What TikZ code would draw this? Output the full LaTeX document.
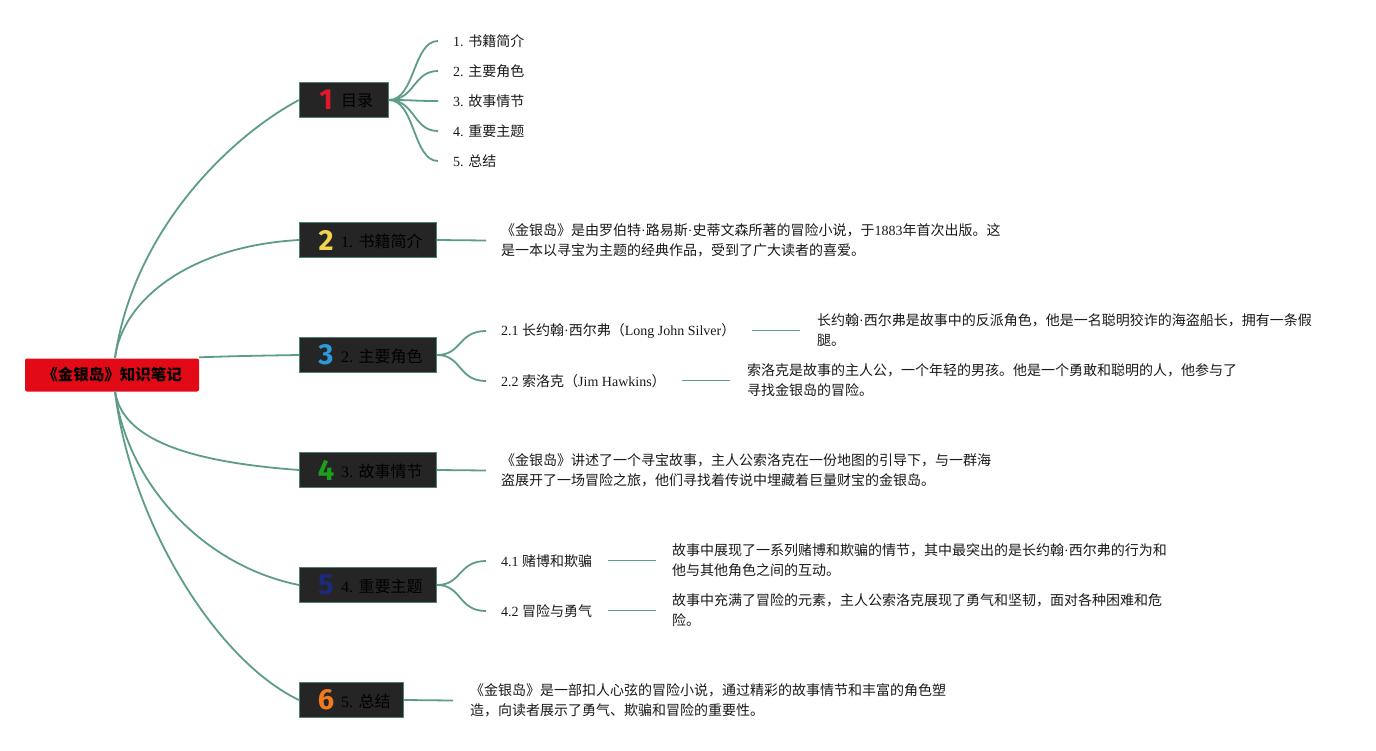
\documentclass[tikz,border=0pt]{standalone}
\usepackage{fontspec}
\setmainfont{Liberation Serif}
\newfontfamily\cjk{Noto Sans CJK SC}
\newfontfamily\numf{Fira Sans}
\newcommand\latn[1]{{\rmfamily #1}}
\definecolor{conncol}{HTML}{5E9C8A}
\definecolor{boxfill}{HTML}{252525}
\definecolor{boxline}{HTML}{4C8272}
\definecolor{rootred}{HTML}{E20A16}
\definecolor{txt}{HTML}{1A1A1A}
\definecolor{n1}{HTML}{E0182D}
\definecolor{n2}{HTML}{F2D34E}
\definecolor{n3}{HTML}{2A9BD8}
\definecolor{n4}{HTML}{1E9E1E}
\definecolor{n5}{HTML}{1C2A7E}
\definecolor{n6}{HTML}{F07A1E}
\tikzset{
  conn/.style={draw=conncol, line width=1.8pt},
  rootbox/.style={fill=rootred, rounded corners=2pt, minimum width=174pt, minimum height=33pt, inner sep=0pt,
    font=\cjk\bfseries\fontsize{15.5}{16}\selectfont, text=black},
  branchbox/.style={fill=boxfill, draw=boxline, line width=1pt, minimum height=35pt, inner sep=0pt, anchor=west},
  numicon/.style={font=\numf\bfseries\fontsize{29}{29}\selectfont, inner sep=0pt},
  blabel/.style={font=\cjk\fontsize{16}{18}\selectfont, text=black, anchor=west, inner sep=0pt},
  leaf/.style={font=\cjk\fontsize{14}{20}\selectfont, text=txt, anchor=west, inner sep=0pt, align=left},
}
\begin{document}
\begin{tikzpicture}[x=1pt,y=-1pt]
\useasboundingbox (0,0) rectangle (1376,750);
\fill[white] (0,0) rectangle (1376,750);

% root
\node[rootbox] (root) at (112,375) {《金银岛》知识笔记};
\coordinate (rtop) at (115,358);
\coordinate (rbot) at (115,391);

% branch boxes
\node[branchbox, minimum width=89pt] (b1) at (299,100) {};
\node[branchbox, minimum width=137pt] (b2) at (299,240) {};
\node[branchbox, minimum width=137pt] (b3) at (299,355) {};
\node[branchbox, minimum width=137pt] (b4) at (299,470) {};
\node[branchbox, minimum width=137pt] (b5) at (299,585) {};
\node[branchbox, minimum width=104pt] (b6) at (299,700) {};

\node[numicon, text=n1] (i1) at (326,100) {1};
\node[numicon, text=n2] (i2) at (326,240) {2};
\node[numicon, text=n3] (i3) at (326,355) {3};
\node[numicon, text=n4] (i4) at (326,470) {4};
\node[numicon, text=n5] (i5) at (326,585) {5};
\node[numicon, text=n6] (i6) at (326,700) {6};

\node[blabel] (l1) at (341,101) {目录};
\node[blabel] (l2) at (341,241) {\latn{1. }书籍简介};
\node[blabel] (l3) at (341,356) {\latn{2. }主要角色};
\node[blabel] (l4) at (341,471) {\latn{3. }故事情节};
\node[blabel] (l5) at (341,586) {\latn{4. }重要主题};
\node[blabel] (l6) at (341,701) {\latn{5. }总结};

% root connectors
\draw[conn] (rtop) .. controls (133,232) and (228,138) .. (b1.west);
\draw[conn] (rtop) .. controls (122,300) and (190,246) .. (b2.west);
\draw[conn] ([yshift=1pt]root.north east) .. controls (240,356) .. (b3.west);
\draw[conn] (rbot) .. controls (122,440) and (190,462) .. (b4.west);
\draw[conn] (rbot) .. controls (126,480) and (200,565) .. (b5.west);
\draw[conn] (rbot) .. controls (130,520) and (215,660) .. (b6.west);

% catalogue items
\node[leaf] (c1) at (453,41) {\latn{1. }书籍简介};
\node[leaf] (c2) at (453,71) {\latn{2. }主要角色};
\node[leaf] (c3) at (453,101) {\latn{3. }故事情节};
\node[leaf] (c4) at (453,131) {\latn{4. }重要主题};
\node[leaf] (c5) at (453,161) {\latn{5. }总结};
\foreach \c in {c1,c2,c3,c4,c5}{
  \draw[conn] (b1.east) .. controls (415,100) and (413,0 |- \c.west) .. ([xshift=-15pt]\c.west);
}

% branch 2
\node[leaf] (d2) at (501,240.5) {《金银岛》是由罗伯特\latn{·}路易斯\latn{·}史蒂文森所著的冒险小说，于\latn{1883}年首次出版。这\\是一本以寻宝为主题的经典作品，受到了广大读者的喜爱。};
\draw[conn] (b2.east) -- ([xshift=-15pt]d2.west);

% branch 3
\node[leaf] (s21) at (501,331) {\latn{2.1 }长约翰\latn{·}西尔弗（\latn{Long John Silver}）};
\node[leaf] (s22) at (501,381) {\latn{2.2 }索洛克（\latn{Jim Hawkins}）};
\draw[conn] (b3.east) .. controls (462,355) and (458,331) .. ([xshift=-15pt]s21.west);
\draw[conn] (b3.east) .. controls (462,355) and (458,381) .. ([xshift=-15pt]s22.west);
\node[leaf] (d21) at (817,330.5) {长约翰\latn{·}西尔弗是故事中的反派角色，他是一名聪明狡诈的海盗船长，拥有一条假\\腿。};
\node[leaf] (d22) at (747,380.5) {索洛克是故事的主人公，一个年轻的男孩。他是一个勇敢和聪明的人，他参与了\\寻找金银岛的冒险。};
\draw[conn] ([xshift=-65pt]d21.west) -- ([xshift=-17pt]d21.west);
\draw[conn] ([xshift=-65pt]d22.west) -- ([xshift=-17pt]d22.west);

% branch 4
\node[leaf] (d4) at (501,470.5) {《金银岛》讲述了一个寻宝故事，主人公索洛克在一份地图的引导下，与一群海\\盗展开了一场冒险之旅，他们寻找着传说中埋藏着巨量财宝的金银岛。};
\draw[conn] (b4.east) -- ([xshift=-15pt]d4.west);

% branch 5
\node[leaf] (s41) at (501,561) {\latn{4.1 }赌博和欺骗};
\node[leaf] (s42) at (501,611) {\latn{4.2 }冒险与勇气};
\draw[conn] (b5.east) .. controls (462,585) and (458,561) .. ([xshift=-15pt]s41.west);
\draw[conn] (b5.east) .. controls (462,585) and (458,611) .. ([xshift=-15pt]s42.west);
\node[leaf] (d41) at (672,560.5) {故事中展现了一系列赌博和欺骗的情节，其中最突出的是长约翰\latn{·}西尔弗的行为和\\他与其他角色之间的互动。};
\node[leaf] (d42) at (672,610.5) {故事中充满了冒险的元素，主人公索洛克展现了勇气和坚韧，面对各种困难和危\\险。};
\draw[conn] ([xshift=-64pt]d41.west) -- ([xshift=-16pt]d41.west);
\draw[conn] ([xshift=-64pt]d42.west) -- ([xshift=-16pt]d42.west);

% branch 6
\node[leaf] (d6) at (470,700.5) {《金银岛》是一部扣人心弦的冒险小说，通过精彩的故事情节和丰富的角色塑\\造，向读者展示了勇气、欺骗和冒险的重要性。};
\draw[conn] (b6.east) -- ([xshift=-17pt]d6.west);
\end{tikzpicture}
\end{document}
